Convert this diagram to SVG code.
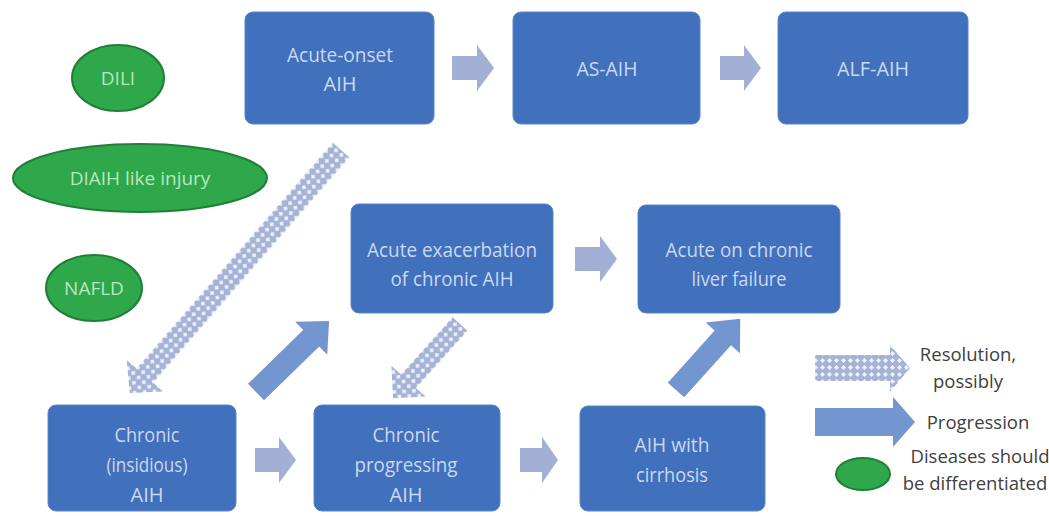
<svg xmlns="http://www.w3.org/2000/svg" width="1049" height="516" viewBox="0 0 1049 516">
<defs>
<pattern id="hatch" patternUnits="userSpaceOnUse" width="7" height="7">
<rect width="7" height="7" fill="#A4B3D6"/>
<path d="M3.5 1 L6 3.5 L3.5 6 L1 3.5 Z" fill="#EEF2F9"/>
</pattern>
<style>
.box{fill:#4171BC;stroke:#5B86C9;stroke-width:1}
.bt{font-family:"Open Sans","Noto Sans",sans-serif;font-size:20px;fill:#CBD8F0;text-anchor:middle}
.ell{fill:#2EA84A;stroke:#1F7F37;stroke-width:2}
.et{font-family:"Open Sans","Noto Sans",sans-serif;font-size:19px;fill:#B9E6BC;text-anchor:middle}
.lt{font-family:"Open Sans","Noto Sans",sans-serif;font-size:18.5px;fill:#404040;text-anchor:middle}
.ha{fill:#A2B0D5}
.sa{fill:#7395D0}
.hatched{fill:url(#hatch)}
</style>
</defs>
<rect width="1049" height="516" fill="#FFFFFF"/>

<g id="connectors">
<polygon class="ha" points="452,56 477,56 477,45 494,68 477,91 477,80 452,80"/>
<polygon class="ha" points="720,56 744,56 744,45 761,68 744,91 744,80 720,80"/>
<polygon class="ha" points="575,247 600,247 600,236 617,259 600,282 600,271 575,271"/>
<polygon class="ha" points="255,448 279,448 279,437 296,460 279,483 279,472 255,472"/>
<polygon class="ha" points="520,448 542,448 542,437 558,460 542,483 542,472 520,472"/>
<g transform="translate(341,150) rotate(131)">
<polygon class="hatched" points="0,-11 299,-11 299,-24 322,0 299,24 299,11 0,11"/>
</g>
<g transform="translate(256,392) rotate(-44.2)">
<polygon class="sa" points="0,-11.5 77,-11.5 77,-23 102,0 77,23 77,11.5 0,11.5"/>
</g>
<g transform="translate(460,324) rotate(132)">
<polygon class="hatched" points="0,-10 77,-10 77,-23 100,0 77,23 77,10 0,10"/>
</g>
<g transform="translate(676,390) rotate(-48)">
<polygon class="sa" points="0,-11 70,-11 70,-23 96,0 70,23 70,11 0,11"/>
</g>
</g>

<g id="node-dili"><ellipse class="ell" cx="118" cy="78" rx="46" ry="33"/><text class="et" x="118" y="85">DILI</text></g>
<g id="node-diaih"><ellipse class="ell" cx="140" cy="178" rx="127" ry="34"/><text class="et" x="140" y="185">DIAIH like injury</text></g>
<g id="node-nafld"><ellipse class="ell" cx="94" cy="288" rx="48" ry="33"/><text class="et" x="94" y="295">NAFLD</text></g>

<g id="node-acute-onset"><rect class="box" x="245" y="12" width="189" height="112" rx="8"/>
<text class="bt" x="340" y="62" textLength="106" lengthAdjust="spacingAndGlyphs">Acute-onset</text>
<text class="bt" x="340" y="91">AIH</text></g>
<g id="node-as-aih"><rect class="box" x="513" y="12" width="187" height="112" rx="8"/>
<text class="bt" x="607" y="76" textLength="61" lengthAdjust="spacingAndGlyphs">AS-AIH</text></g>
<g id="node-alf-aih"><rect class="box" x="778" y="12" width="190" height="112" rx="8"/>
<text class="bt" x="873" y="76" textLength="72" lengthAdjust="spacingAndGlyphs">ALF-AIH</text></g>

<g id="node-acute-exacerbation"><rect class="box" x="351" y="204" width="202" height="109" rx="8"/>
<text class="bt" x="452" y="257" textLength="170" lengthAdjust="spacingAndGlyphs">Acute exacerbation</text>
<text class="bt" x="452" y="286" textLength="123" lengthAdjust="spacingAndGlyphs">of chronic AIH</text></g>
<g id="node-aclf"><rect class="box" x="638" y="205" width="202" height="108" rx="8"/>
<text class="bt" x="739" y="257" textLength="147" lengthAdjust="spacingAndGlyphs">Acute on chronic</text>
<text class="bt" x="739" y="286" textLength="95" lengthAdjust="spacingAndGlyphs">liver failure</text></g>

<g id="node-chronic-insidious"><rect class="box" x="48" y="405" width="188" height="106" rx="8"/>
<text class="bt" x="147" y="442" textLength="65" lengthAdjust="spacingAndGlyphs">Chronic</text>
<text class="bt" x="147" y="472" textLength="81" lengthAdjust="spacingAndGlyphs">(insidious)</text>
<text class="bt" x="147" y="502">AIH</text></g>
<g id="node-chronic-progressing"><rect class="box" x="314" y="405" width="186" height="106" rx="8"/>
<text class="bt" x="406" y="442" textLength="67" lengthAdjust="spacingAndGlyphs">Chronic</text>
<text class="bt" x="406" y="472" textLength="103" lengthAdjust="spacingAndGlyphs">progressing</text>
<text class="bt" x="406" y="502">AIH</text></g>
<g id="node-aih-cirrhosis"><rect class="box" x="580" y="406" width="185" height="105" rx="8"/>
<text class="bt" x="672" y="452" textLength="75" lengthAdjust="spacingAndGlyphs">AIH with</text>
<text class="bt" x="672" y="482" textLength="72" lengthAdjust="spacingAndGlyphs">cirrhosis</text></g>

<g id="legend">
<polygon class="hatched" points="815,355 890,355 890,345 910,368 890,392 890,381 815,381"/>
<text class="lt" x="968" y="361">Resolution,</text>
<text class="lt" x="968" y="388">possibly</text>
<polygon class="sa" fill="#7E9DD6" points="815,408 893,408 893,397 915,422 893,447 893,436 815,436"/>
<text class="lt" x="978" y="429">Progression</text>
<ellipse class="ell" cx="863" cy="474" rx="27" ry="16"/>
<text class="lt" x="980" y="463">Diseases should</text>
<text class="lt" x="975" y="490">be differentiated</text>
</g>
</svg>
